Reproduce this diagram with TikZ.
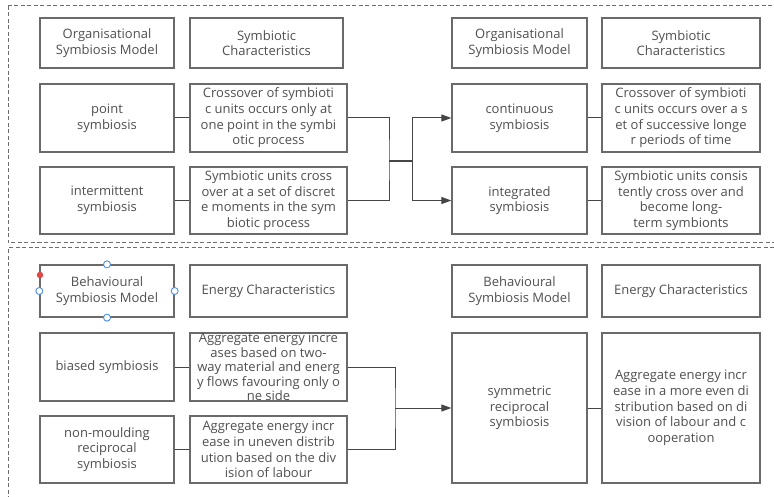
\documentclass[tikz,border=0pt]{standalone}
\usepackage{fontspec}
\setmainfont{Open Sans}
\usetikzlibrary{arrows.meta}
\definecolor{boxgray}{HTML}{6A6A6A}
\definecolor{txtgray}{HTML}{505050}
\definecolor{linegray}{HTML}{454545}
\definecolor{dashgray}{HTML}{6E6E6E}
\definecolor{handleblue}{HTML}{4A90E2}
\definecolor{handlered}{HTML}{E04848}
\tikzset{
  box/.style={draw=boxgray, line width=1.3pt, rectangle, align=center, text=txtgray,
    font=\fontsize{13}{15.7}\selectfont, inner sep=0pt},
  colA/.style={minimum width=134pt},
  colB/.style={minimum width=157pt},
  colBh/.style={minimum width=153pt},
  colC/.style={minimum width=135pt},
  colD/.style={minimum width=158pt},
  hrow/.style={minimum height=50pt},
  brow/.style={minimum height=68pt},
  conn/.style={draw=linegray, line width=1pt},
  arr/.style={conn, -{Triangle[length=10pt,width=7pt]}},
  frame/.style={draw=dashgray, line width=1pt, dash pattern=on 4pt off 2.5pt},
  handle/.style={circle, draw=handleblue, fill=white, line width=0.9pt, minimum size=7pt, inner sep=0pt},
  rdot/.style={circle, fill=handlered, minimum size=6.5pt, inner sep=0pt}
}
\begin{document}
\begin{tikzpicture}[x=1pt,y=-1pt]
\useasboundingbox (0,0) rectangle (774,497);
\fill[white] (0,0) rectangle (774,497);
% frames (right edges fall just outside the picture)
\begin{scope}
\clip (0,0) rectangle (774,497);
\draw[frame] (8,6) rectangle (777,243);
\draw[frame] (8,500) -- (8,248) -- (777,248) -- (777,500);
\end{scope}

% ---- top section
\node[box,colA,hrow] (th1) at (107,43) {Organisational\\Symbiosis Model};
\node[box,colBh,hrow] (th2) at (266.5,43) {Symbiotic\\Characteristics};
\node[box,colC,hrow] (th3) at (519.5,43) {Organisational\\Symbiosis Model};
\node[box,colD,hrow] (th4) at (681,43) {Symbiotic\\Characteristics};

\node[box,colA,brow] (a1) at (107,118) {point\\symbiosis};
\node[box,colB,brow] (b1) at (268.5,118) {Crossover of symbioti\\c units occurs only at\\one point in the symbi\\otic process};
\node[box,colA,minimum height=67pt] (a2) at (107,200.5) {intermittent\\symbiosis};
\node[box,colB,minimum height=67pt] (b2) at (268.5,200.5) {Symbiotic units cross\\over at a set of discret\\e moments in the sym\\biotic process};

\node[box,colC,brow] (c1) at (519.5,118) {continuous\\symbiosis};
\node[box,colD,brow] (d1) at (681,118) {Crossover of symbioti\\c units occurs over a s\\et of successive longe\\r periods of time};
\node[box,colC,minimum height=67pt] (c2) at (519.5,200.5) {integrated\\symbiosis};
\node[box,colD,minimum height=67pt] (d2) at (681,200.5) {Symbiotic units consis\\tently cross over and\\become long-\\term symbionts};

\coordinate (j1) at (389,161);
\coordinate (j2) at (412,161);
\draw[conn] (a1.east) -- (b1.west);
\draw[conn] (a2.east) -- (b2.west);
\draw[conn] (c1.east) -- (d1.west);
\draw[conn] (c2.east) -- (d2.west);
\draw[conn] (b1.east) -| (j1) |- (b2.east);
\draw[conn, line width=1.5pt] (j1) -- (j2);
\draw[arr] (j2) |- (c1.west);
\draw[arr] (j2) |- (c2.west);

% ---- bottom section
\node[box,colA,minimum height=52pt] (bh1) at (107,291) {Behavioural\\Symbiosis Model};
\node[box,colB,minimum height=52pt] (bh2) at (268.5,291) {Energy Characteristics};
\node[box,colC,minimum height=52pt] (bh3) at (519.5,291) {Behavioural\\Symbiosis Model};
\node[box,colD,minimum height=52pt] (bh4) at (681,291) {Energy Characteristics};

\node[box,colA,brow] (e1) at (107,367) {biased symbiosis};
\node[box,colB,brow,font=\fontsize{13}{14.5}\selectfont] (f1) at (268.5,367) {Aggregate energy incre\\ases based on two-\\way material and energ\\y flows favouring only o\\ne side};
\node[box,colA,minimum height=67pt] (e2) at (107,449.5) {non-moulding\\reciprocal\\symbiosis};
\node[box,colB,minimum height=67pt] (f2) at (268.5,449.5) {Aggregate energy incr\\ease in uneven distrib\\ution based on the div\\ision of labour};

\node[box,colC,minimum height=150pt] (s1) at (519.5,408) {symmetric\\reciprocal\\symbiosis};
\node[box,colD,minimum height=150pt] (s2) at (681,408) {Aggregate energy incr\\ease in a more even di\\stribution based on di\\vision of labour and c\\ooperation};

\coordinate (j3) at (395,408);
\draw[conn] (e1.east) -- (f1.west);
\draw[conn] (e2.east) -- (f2.west);
\draw[conn] (s1.east) -- (s2.west);
\draw[conn] (f1.east) -| (j3) |- (f2.east);
\draw[arr] (j3) -- (s1.west);

% selection handles
\node[handle] (hn) at (bh1.north) {};
\node[handle] (hs) at (bh1.south) {};
\node[handle] (hw) at (bh1.west) {};
\node[handle] (he) at (bh1.east) {};
\node[rdot] (hr) at (40,275) {};
\end{tikzpicture}
\end{document}
